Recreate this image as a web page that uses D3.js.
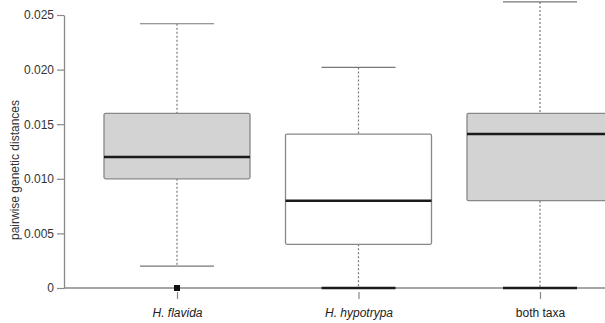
<!DOCTYPE html>
<html>
<head>
<meta charset="utf-8">
<script src="https://cdn.jsdelivr.net/npm/d3@7"></script>
<style>
  body { margin: 0; background: #fff; }
  svg { display: block; font-family: "Liberation Sans", Arial, sans-serif; }
</style>
</head>
<body>
<svg id="chart"></svg>
<script>
var svgWidth = 605;
var svgHeight = 323;

// data
var categories = ['H. flavida', 'H. hypotrypa', 'both taxa'];
var italicLabel = [true, true, false];
var q1 = [0.010, 0.004, 0.008];
var medians = [0.012, 0.008, 0.0141];
var q3 = [0.016, 0.0141, 0.016];
var whiskerLow = [0.002, 0, 0];
var whiskerHigh = [0.0242, 0.0202, 0.0262];
var outliers = [[0], [], []];
var boxFills = ['#d3d3d3', '#ffffff', '#d3d3d3'];
var yTicks = [0, 0.005, 0.010, 0.015, 0.020, 0.025];
var yTickLabels = ['0', '0.005', '0.010', '0.015', '0.020', '0.025'];

var plotLeft = 64;
var plotBottom = 288;
var plotTop = 15;

var yScale = d3.scaleLinear().domain([0, 0.025]).range([plotBottom, plotTop]);
var xScale = d3.scalePoint().domain(categories).range([177, 540]);

var boxHalf = 73;
var capHalf = 37;

var svg = d3.select('#chart').attr('width', svgWidth).attr('height', svgHeight);

// x axis line (under the boxes)
svg.append('line')
  .attr('x1', plotLeft).attr('x2', svgWidth)
  .attr('y1', plotBottom).attr('y2', plotBottom)
  .attr('stroke', '#888').attr('stroke-width', 1.3);

var data = categories.map(function(c, i) {
  return { name: c, i: i, q1: q1[i], med: medians[i], q3: q3[i],
           lo: whiskerLow[i], hi: whiskerHigh[i], out: outliers[i], fill: boxFills[i] };
});

var boxes = svg.append('g').attr('class', 'boxes');

var g = boxes.selectAll('.box').data(data).enter().append('g').attr('class', 'box');

// whiskers (dotted)
g.append('line')
  .attr('x1', d => xScale(d.name)).attr('x2', d => xScale(d.name))
  .attr('y1', d => yScale(d.hi)).attr('y2', d => yScale(d.q3))
  .attr('stroke', '#777').attr('stroke-width', 1.2).attr('stroke-dasharray', '2,2');
g.append('line')
  .attr('x1', d => xScale(d.name)).attr('x2', d => xScale(d.name))
  .attr('y1', d => yScale(d.q1)).attr('y2', d => yScale(d.lo))
  .attr('stroke', '#777').attr('stroke-width', 1.2).attr('stroke-dasharray', '2,2');

// boxes
g.append('rect')
  .attr('x', d => xScale(d.name) - boxHalf)
  .attr('y', d => yScale(d.q3))
  .attr('width', boxHalf * 2)
  .attr('height', d => yScale(d.q1) - yScale(d.q3))
  .attr('rx', 1.5)
  .attr('fill', d => d.fill)
  .attr('stroke', '#888').attr('stroke-width', 1.3);

// medians
g.append('line')
  .attr('x1', d => xScale(d.name) - boxHalf).attr('x2', d => xScale(d.name) + boxHalf)
  .attr('y1', d => yScale(d.med)).attr('y2', d => yScale(d.med))
  .attr('stroke', '#1a1a1a').attr('stroke-width', 2.5);

// whisker caps
g.append('line')
  .attr('x1', d => xScale(d.name) - capHalf).attr('x2', d => xScale(d.name) + capHalf)
  .attr('y1', d => yScale(d.hi)).attr('y2', d => yScale(d.hi))
  .attr('stroke', '#777').attr('stroke-width', 1.2);
g.append('line')
  .attr('x1', d => xScale(d.name) - capHalf).attr('x2', d => xScale(d.name) + capHalf)
  .attr('y1', d => yScale(d.lo)).attr('y2', d => yScale(d.lo))
  .attr('stroke', d => d.lo === 0 ? '#1a1a1a' : '#777')
  .attr('stroke-width', d => d.lo === 0 ? 2.6 : 1.2);

// outliers
g.selectAll('.outlier').data(d => d.out.map(v => ({ name: d.name, v: v }))).enter()
  .append('rect').attr('class', 'outlier')
  .attr('x', d => xScale(d.name) - 3).attr('y', d => yScale(d.v) - 3)
  .attr('width', 6).attr('height', 6)
  .attr('fill', '#111');

// y axis
var yAxis = svg.append('g')
  .attr('transform', 'translate(' + plotLeft + ',0)')
  .call(d3.axisLeft(yScale).tickValues(yTicks).tickFormat((d, i) => yTickLabels[i]).tickSize(7).tickSizeOuter(0).tickPadding(3));
yAxis.select('.domain').attr('stroke', '#888').attr('stroke-width', 1.3);
yAxis.selectAll('.tick line').attr('stroke', '#888').attr('stroke-width', 1.2);
yAxis.selectAll('.tick text').attr('fill', '#333').style('font-size', '12px').style('font-family', '"Liberation Sans", Arial, sans-serif');

// x axis ticks and labels
var xAxis = svg.append('g')
  .attr('transform', 'translate(0,' + (plotBottom + 4) + ')')
  .call(d3.axisBottom(xScale).tickSize(7).tickPadding(9));
xAxis.select('.domain').remove();
xAxis.selectAll('.tick line').attr('stroke', '#888').attr('stroke-width', 1.2);
xAxis.selectAll('.tick text')
  .attr('fill', '#222')
  .style('font-size', '12px')
  .style('font-family', '"Liberation Sans", Arial, sans-serif')
  .style('font-style', (d, i) => italicLabel[i] ? 'italic' : 'normal');

// y title
svg.append('text')
  .text('pairwise genetic distances')
  .attr('text-anchor', 'middle')
  .attr('transform', 'translate(19,170)rotate(-90)')
  .attr('fill', '#333')
  .style('font-size', '12px');
</script>
</body>
</html>
